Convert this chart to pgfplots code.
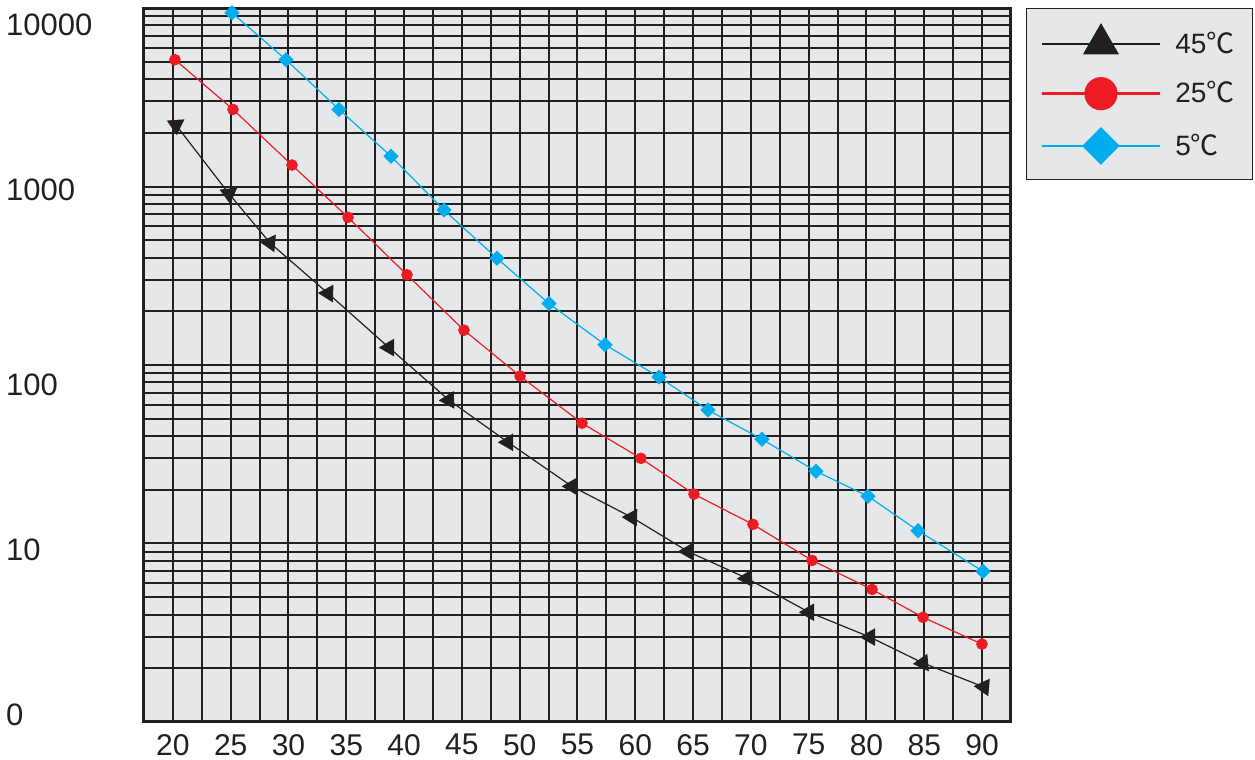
\documentclass[border=0pt]{standalone}
\usepackage{fontspec}
\setmainfont{Liberation Sans}
\newfontfamily\cjk{Noto Sans CJK SC}
\usepackage{pgfplots}
\usepackage{pgfplotstable}
\pgfplotsset{compat=1.18}

\definecolor{lblack}{HTML}{231F20}
\definecolor{lred}{HTML}{ED1C24}
\definecolor{lblue}{HTML}{00AEEF}
\definecolor{bg}{HTML}{E6E7E8}

% 45 C: rot turns each triangle as it sits in the original
\pgfplotstableread{
x y rot
20.27 2210 64
24.85 911 66
28.40 483 85
33.42 252 88
38.69 125.2 90
43.88 63.6 92
48.99 36.9 90
54.52 20.9 90
59.71 14.0 88
64.56 9.02 90
69.66 6.38 92
75.03 4.12 90
80.30 2.99 90
84.89 2.14 95
90.16 1.57 85
}\tblack

% 25 C
\pgfplotstableread{
x y
20.18 5133
25.20 2703
30.30 1319
35.15 672
40.25 320
45.18 156.8
50.03 86.7
55.39 47.2
60.49 30.0
65.08 18.9
70.18 12.8
75.29 8.04
80.48 5.53
84.89 3.86
89.99 2.73
}\tred

% 5 C
\pgfplotstableread{
x y
25.11 9395
29.78 5133
34.37 2703
38.87 1477
43.45 738
48.04 396
52.53 221
57.38 130
62.05 85.6
66.29 55.9
70.96 38.4
75.63 25.4
80.13 18.4
84.46 11.8
90.08 6.98
}\tblue

\begin{document}
\begin{tikzpicture}
\begin{axis}[
  name=ax,
  scale only axis, width=433.5pt, height=357pt,
  xmin=17.5, xmax=92.5,
  ymode=log, ymin=1, ymax=10000,
  axis background/.style={fill=bg},
  axis line style={lblack, line width=1.5pt},
  xtick={20,25,30,35,40,45,50,55,60,65,70,75,80,85,90},
  minor xtick={22.5,27.5,32.5,37.5,42.5,47.5,52.5,57.5,62.5,67.5,72.5,77.5,82.5,87.5},
  ytick={1.094,9.2,77.3,955,8030},
  yticklabels={0,10,100,1000,10000},
  minor ytick={2,3,4,5,6,7,8,9,10,20,30,40,50,60,70,80,90,100,200,300,400,500,600,700,800,900,1000,2000,3000,4000,5000,6000,7000,8000,9000},
  xmajorgrids=true, xminorgrids=true,
  ymajorgrids=false, yminorgrids=true,
  major grid style={lblack, line width=1pt},
  minor grid style={lblack, line width=1pt},
  major tick length=0pt, minor tick length=0pt,
  /pgf/number format/assume math mode=true,
  xticklabel style={font=\fontsize{15}{18}\selectfont, text=lblack, yshift=-2.5pt},
  yticklabel style={font=\fontsize{15.5}{18}\selectfont, text=lblack,
    anchor=west, xshift=-72.5pt},
  legend cell align=left,
  legend style={at={(1,1)}, anchor=north west, xshift=7.5pt,
    draw=lblack, line width=0.7pt, fill=bg, text=lblack,
    font=\fontsize{14}{16}\selectfont,
    inner xsep=7pt, inner ysep=7.5pt, row sep=8.5pt,
    /tikz/every odd column/.append style={column sep=5pt}},
]
\addplot[scatter, lblack, line width=0.6pt, mark=triangle*, mark size=4.5pt,
  scatter/use mapped color={draw=lblack, fill=lblack},
  visualization depends on={\thisrow{rot} \as \markrot},
  scatter/@pre marker code/.append style={/tikz/rotate=\markrot},
  legend image code/.code={
    \draw[lblack, line width=1.3pt] (0pt,0pt) -- (59pt,0pt);
    \fill[lblack] (29.5pt,9.8pt) -- (21.01pt,-4.9pt) -- (37.99pt,-4.9pt) -- cycle;
  }] table[x=x, y=y] {\tblack};
\addlegendentry{45{\cjk ℃}}

\addplot[lred, line width=0.6pt, mark=*, mark size=2.6pt,
  legend image code/.code={
    \draw[lred, line width=1.3pt] (0pt,0pt) -- (59pt,0pt);
    \fill[lred] (29.5pt,0pt) circle (8pt);
  }] table[x=x, y=y] {\tred};
\addlegendentry{25{\cjk ℃}}

\addplot[lblue, line width=0.6pt, mark=square*, mark size=2.4pt,
  mark options={rotate=45},
  legend image code/.code={
    \draw[lblue, line width=1.3pt] (0pt,0pt) -- (59pt,0pt);
    \fill[lblue] (20.5pt,0pt) -- (29.5pt,9pt) -- (38.5pt,0pt) -- (29.5pt,-9pt) -- cycle;
  }] table[x=x, y=y] {\tblue};
\addlegendentry{5{\cjk ℃}}
\end{axis}
\pgfresetboundingbox
\path[use as bounding box] ([shift={(-72pt,-19pt)}]ax.south west)
  rectangle ([shift={(555.5pt,361pt)}]ax.south west);
\end{tikzpicture}
\end{document}
